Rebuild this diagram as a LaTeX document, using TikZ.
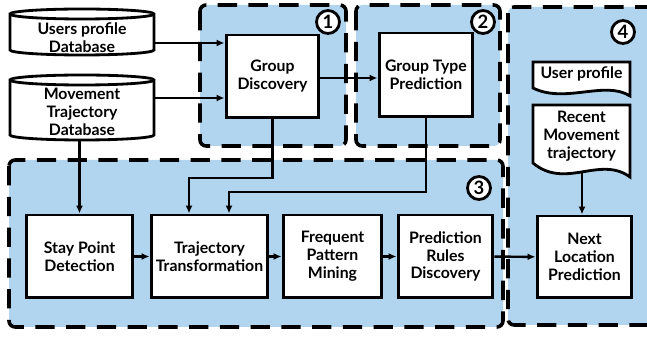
\documentclass[tikz,border=0pt]{standalone}
\usepackage{fontspec}
\setmainfont{Lato}
\usepackage{tikz}
\usetikzlibrary{positioning, calc, arrows.meta}
\definecolor{regionblue}{RGB}{178,213,239}

\begin{document}
\begin{tikzpicture}[
        x=0.02cm, y=-0.02cm,
        region/.style={draw=black, fill=regionblue, line width=2pt, dash pattern=on 11pt off 6.5pt, rounded corners=3.5pt},
        process/.style={rectangle, draw=black, fill=white, line width=1.7pt, minimum height=1.66cm, align=center, inner sep=1pt, font=\fontsize{9}{10.2}\selectfont\bfseries},
        dbtext/.style={rectangle, minimum width=2.88cm, align=center, inner sep=0pt, font=\fontsize{9}{10.2}\selectfont\bfseries},
        dbline/.style={draw=black, fill=white, line width=1.6pt},
        doctext/.style={rectangle, minimum width=1.94cm, align=center, inner sep=0pt, font=\fontsize{9}{10.2}\selectfont\bfseries},
        number/.style={circle, draw=black, fill=white, line width=1.6pt, minimum size=0.46cm, inner sep=0pt, font=\fontsize{10.5}{10.5}\selectfont\bfseries},
        arrow/.style={-{Latex[length=1.6mm, width=1.4mm]}, line width=1.4pt}
    ]
        \useasboundingbox (0,0) rectangle (647,337);
        \clip (0,0) rectangle (647,337);

        \draw[region] (200,5) rectangle (346,146);
        \draw[region] (356,5) rectangle (500,146);
        \draw[region] (9,160) rectangle (503,327);
        \draw[region] (508,7) rectangle (670,325);

        \draw[dbline] (10,14) -- (10,50) arc[start angle=180, end angle=360, x radius=1.44cm, y radius=0.1cm] -- (154,14) arc[start angle=0, end angle=180, x radius=1.44cm, y radius=0.1cm] -- cycle;
        \draw[dbline] (10,14) arc[start angle=180, end angle=360, x radius=1.44cm, y radius=0.1cm];
        \draw[dbline] (10,80) -- (10,135) arc[start angle=180, end angle=360, x radius=1.44cm, y radius=0.1cm] -- (154,80) arc[start angle=0, end angle=180, x radius=1.44cm, y radius=0.1cm] -- cycle;
        \draw[dbline] (10,80) arc[start angle=180, end angle=360, x radius=1.44cm, y radius=0.1cm];

        \draw[dbline] (533,62) -- (630,62) -- (630,96) .. controls (605,80) and (565,104) .. (533,88) -- cycle;
        \draw[dbline] (533,105) -- (630,105) -- (630,177) .. controls (600,155) and (565,190) .. (533,163) -- cycle;

        \node[dbtext, minimum height=0.8cm] (usersdb) at (82,38) {Users profile\\Database};
        \node[dbtext, minimum height=1.12cm] (movdb) at (82,112) {Movement\\Trajectory\\Database};

        \node[process, minimum width=1.86cm] (gd) at (272.5,76.5) {Group\\Discovery};
        \node[process, minimum width=1.88cm, minimum height=1.68cm] (gtp) at (426,75) {Group Type\\Prediction};

        \node[process, minimum width=2.14cm] (stay) at (79.5,256.5) {Stay Point\\Detection};
        \node[process, minimum width=2.34cm] (tt) at (209.5,256.5) {Trajectory\\Transformation};
        \node[process, minimum width=1.98cm] (fpm) at (332.5,256.5) {Frequent\\Pattern\\Mining};
        \node[process, minimum width=1.90cm] (prd) at (445.5,256.5) {Prediction\\Rules\\Discovery};
        \node[process, minimum width=1.90cm, minimum height=1.64cm] (nlp) at (584.5,257) {Next\\Location\\Prediction};

        \node[doctext, minimum height=0.48cm] (userprof) at (581.5,74) {User profile};
        \node[doctext] (recent) at (581.5,136) {Recent\\Movement\\trajectory};
        \coordinate (recentend) at (582,172);

        \node[number] (n1) at (328,22) {1};
        \node[number] (n2) at (483,22) {2};
        \node[number] (n3) at (479,188) {3};
        \node[number] (n4) at (623,32) {4};

        \draw[arrow] (usersdb.east |- 0,43) -- (gd.west |- 0,43);
        \draw[arrow] (movdb.east |- 0,98) -- (gd.west |- 0,98);
        \draw[arrow] (gd.east |- 0,78) -- (gtp.west |- 0,78);
        \draw[arrow] (stay.north |- movdb.south) -- (stay.north);
        \draw[arrow] (gd.south) |- (189,178) -- (tt.north -| 189,0);
        \draw[arrow] (gtp.south) |- (229,192) -- (tt.north -| 229,0);
        \draw[arrow] (stay) -- (tt);
        \draw[arrow] (tt) -- (fpm);
        \draw[arrow] (fpm) -- (prd);
        \draw[arrow] (prd) -- (nlp);
        \draw[arrow] (recentend) -- (recentend |- nlp.north);
    \end{tikzpicture}
\end{document}
